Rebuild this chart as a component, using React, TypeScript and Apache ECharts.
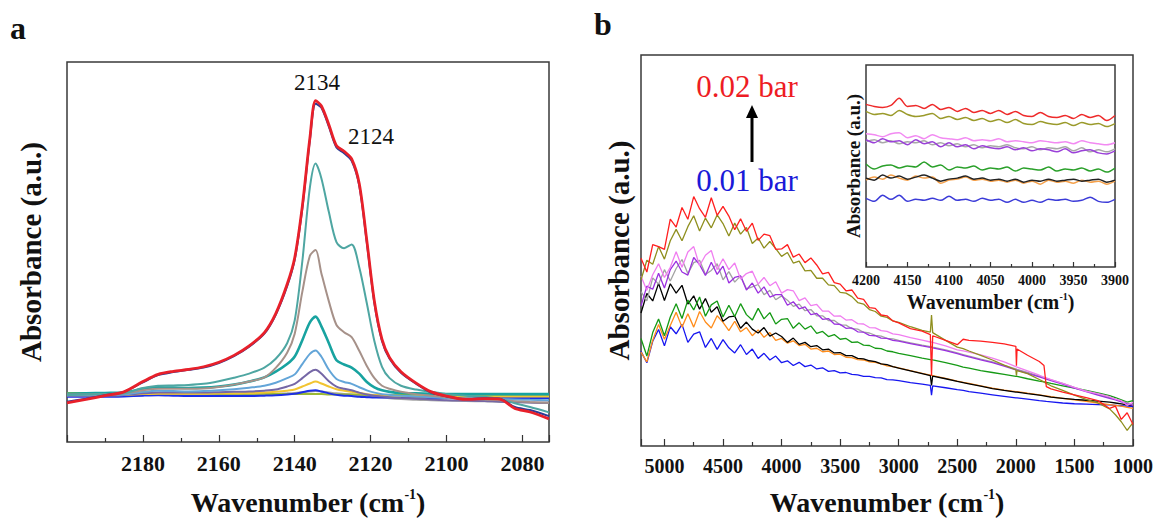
import React, { useEffect, useRef } from "react";
import * as echarts from "echarts";

const FONT = '"Liberation Serif", "Times New Roman", serif';

// ---------- Panel a (CO region) ----------
const xA = [2200, 2195, 2190, 2185, 2180, 2176, 2172, 2168, 2164, 2160, 2156, 2152, 2148, 2145, 2142, 2140, 2138, 2136, 2134.5, 2133, 2131, 2129, 2127, 2125, 2123, 2121, 2119, 2117, 2115, 2112, 2108, 2104, 2100, 2095, 2090, 2086, 2082, 2078, 2073];
const aRed = [10.3, 11.2, 12.2, 13.2, 15.9, 17.8, 18.6, 19.1, 19.8, 21.0, 22.8, 25.3, 28.8, 33.8, 41.5, 48.5, 62.0, 80.0, 89.8, 88.5, 83.5, 78.0, 76.5, 74.5, 68.0, 53.0, 37.0, 27.0, 22.2, 18.5, 15.5, 13.2, 12.1, 11.2, 11.4, 11.3, 8.8, 7.9, 6.1];
const aNavy = [10.6, 11.4, 12.3, 13.2, 15.7, 17.6, 18.4, 19.0, 19.6, 20.8, 22.6, 25.1, 28.5, 33.5, 41.0, 48.0, 61.5, 79.5, 89.0, 88.0, 83.0, 77.5, 76.0, 74.0, 67.5, 52.5, 36.5, 26.6, 21.9, 18.2, 15.3, 13.0, 12.0, 11.3, 11.5, 11.4, 9.2, 8.4, 6.8];
const aCadet = [12.4, 12.5, 12.6, 12.8, 14.2, 14.8, 14.9, 15.0, 15.3, 16.0, 16.9, 18.0, 19.6, 21.9, 26.0, 32.0, 47.5, 67.0, 73.3, 69.5, 60.5, 52.6, 51.0, 52.0, 46.0, 36.5, 26.5, 19.8, 16.8, 14.8, 13.8, 13.2, 12.6, 12.2, 11.9, 11.3, 10.2, 9.2, 7.8];
const aRosy = [12.5, 12.5, 12.6, 12.8, 13.6, 14.0, 14.0, 14.0, 14.1, 14.5, 15.1, 15.9, 17.0, 19.5, 23.5, 28.5, 39.5, 49.0, 50.5, 44.5, 37.0, 30.8, 28.9, 27.6, 24.0, 20.0, 16.8, 14.8, 14.0, 13.2, 12.6, 12.2, 11.8, 11.5, 11.2, 11.0, 10.7, 10.5, 10.3];
const aTeal = [12.7, 12.8, 12.9, 13.0, 14.0, 14.4, 14.3, 14.2, 14.3, 14.6, 15.1, 15.9, 17.0, 18.5, 20.5, 22.5, 26.8, 31.5, 33.0, 30.5, 26.0, 21.5, 20.4, 19.6, 18.0, 15.8, 14.4, 13.6, 13.2, 12.9, 12.8, 12.7, 12.6, 12.6, 12.6, 12.6, 12.6, 12.6, 12.6];
const aSteel = [12.3, 12.3, 12.4, 12.5, 13.2, 13.5, 13.4, 13.3, 13.4, 13.6, 13.9, 14.3, 14.8, 15.6, 16.8, 17.8, 20.5, 23.2, 24.1, 22.5, 19.0, 16.6, 15.8, 15.3, 14.4, 13.6, 13.0, 12.6, 12.4, 12.2, 12.0, 11.8, 11.6, 11.5, 11.4, 11.3, 11.2, 11.1, 11.0];
const aSlate = [12.2, 12.2, 12.3, 12.4, 12.8, 13.0, 13.0, 13.0, 13.0, 13.1, 13.2, 13.3, 13.5, 13.8, 14.6, 15.3, 16.8, 18.4, 19.0, 18.0, 16.0, 14.6, 14.0, 13.6, 13.0, 12.5, 12.2, 12.0, 11.8, 11.6, 11.4, 11.2, 11.0, 10.9, 10.8, 10.6, 10.5, 10.4, 10.3];
const aGold = [12.3, 12.3, 12.3, 12.4, 12.6, 12.7, 12.7, 12.7, 12.7, 12.8, 12.8, 12.9, 13.0, 13.2, 13.5, 13.8, 14.6, 15.4, 15.9, 15.4, 14.6, 13.9, 13.5, 13.2, 12.9, 12.6, 12.4, 12.3, 12.2, 12.1, 12.0, 12.0, 12.0, 12.0, 12.0, 12.0, 12.0, 12.0, 12.0];
const aBlue = [11.9, 11.9, 11.9, 12.0, 12.2, 12.3, 12.2, 12.1, 12.1, 12.1, 12.1, 12.1, 12.2, 12.3, 12.5, 12.7, 13.1, 13.5, 13.6, 13.3, 12.8, 12.4, 12.2, 12.1, 11.9, 11.8, 11.7, 11.7, 11.7, 11.7, 11.7, 11.6, 11.6, 11.6, 11.6, 11.6, 11.6, 11.6, 11.6];
const aOlive = [12.9, 12.9, 12.9, 12.9, 12.9, 12.8, 12.8, 12.8, 12.8, 12.7, 12.7, 12.7, 12.7, 12.6, 12.6, 12.6, 12.6, 12.6, 12.6, 12.6, 12.5, 12.5, 12.5, 12.5, 12.5, 12.4, 12.4, 12.4, 12.4, 12.4, 12.3, 12.3, 12.3, 12.3, 12.3, 12.2, 12.2, 12.2, 12.2];
const aGrey = [12.1, 12.1, 12.1, 12.2, 12.4, 12.5, 12.5, 12.5, 12.5, 12.5, 12.6, 12.6, 12.6, 12.7, 12.8, 12.9, 13.1, 13.3, 13.4, 13.3, 13.0, 12.8, 12.6, 12.5, 12.3, 12.1, 11.9, 11.7, 11.5, 11.3, 11.1, 11.0, 10.9, 10.8, 10.7, 10.6, 10.5, 10.4, 10.3];
const aTicks = ["2180", "2160", "2140", "2120", "2100", "2080"];

// ---------- Panel b (wide range) ----------
const xB = [5200, 5150, 5100, 5050, 5000, 4950, 4900, 4850, 4800, 4750, 4700, 4650, 4600, 4550, 4500, 4450, 4400, 4350, 4300, 4250, 4200, 4150, 4100, 4050, 4000, 3950, 3900, 3850, 3800, 3750, 3700, 3650, 3600, 3550, 3500, 3450, 3400, 3350, 3300, 3250, 3200, 3150, 3100, 3050, 3000,
  2900, 2800, 2730, 2720, 2710, 2600, 2500, 2450, 2400, 2300, 2200, 2100, 2000, 1995, 1990, 1900, 1800, 1760, 1740, 1700, 1600, 1500, 1400, 1300, 1200, 1150, 1100, 1050, 1000];
const bRed = [48.0, 44.5, 51.5, 51.0, 50.3, 58.0, 56.0, 61.0, 58.0, 63.8, 60.7, 58.5, 63.5, 59.0, 61.3, 58.8, 55.3, 58.1, 54.9, 57.0, 52.6, 54.2, 53.8, 50.3, 50.4, 51.5, 48.3, 49.1, 46.9, 48.1, 46.3, 44.0, 44.4, 41.8, 41.4, 39.7, 39.9, 37.8, 37.5, 35.4, 35.2, 33.5, 33.3, 32.0, 31.5,
  30.0, 29.4, 28.5, 18.0, 28.2, 27.0, 25.9, 27.3, 27.0, 26.8, 26.5, 26.1, 25.5, 20.5, 24.8, 23.2, 21.6, 20.6, 15.2, 14.6, 13.8, 13.1, 12.4, 11.6, 9.6, 10.2, 6.8, 8.5, 5.5];
const bOlive = [42.5, 47.5, 46.5, 51.0, 47.8, 52.5, 55.4, 52.5, 56.1, 58.9, 55.0, 58.3, 55.8, 59.1, 56.9, 53.7, 57.0, 54.2, 55.9, 51.8, 53.2, 50.6, 52.3, 50.5, 48.5, 49.5, 46.8, 47.3, 44.8, 44.9, 42.9, 42.9, 41.2, 41.0, 39.3, 39.1, 38.2, 36.7, 36.3, 34.9, 34.4, 33.2, 32.9, 32.0, 31.6,
  30.5, 29.6, 29.1, 33.5, 29.0, 27.0, 25.3, 24.9, 24.3, 23.2, 22.0, 20.7, 19.5, 18.0, 19.3, 18.5, 17.0, 16.4, 16.0, 15.4, 14.2, 13.0, 11.9, 11.0, 9.5, 8.0, 6.2, 4.0, 6.0];
const bPink = [43.5, 39.8, 43.8, 46.6, 43.1, 45.7, 49.7, 45.7, 49.6, 51.0, 46.1, 48.8, 50.0, 45.1, 47.9, 45.1, 46.8, 42.7, 44.1, 44.7, 41.4, 43.1, 41.0, 42.0, 39.1, 40.0, 39.7, 37.2, 37.9, 35.9, 36.2, 34.5, 34.5, 33.2, 33.3, 32.2, 32.3, 31.3, 31.2, 30.3, 30.2, 29.5, 29.3, 28.7, 28.5,
  27.7, 27.1, 26.6, 26.6, 26.5, 25.6, 24.6, 24.3, 24.0, 23.3, 22.5, 21.5, 20.3, 20.2, 20.2, 19.2, 18.1, 17.6, 17.4, 17.0, 16.0, 15.0, 14.0, 13.4, 12.6, 12.0, 11.6, 10.4, 11.2];
const bPurple = [35.8, 40.9, 40.1, 44.2, 40.4, 45.1, 47.3, 44.5, 43.7, 48.2, 46.4, 43.6, 47.0, 43.9, 46.0, 41.7, 43.1, 43.5, 39.9, 41.7, 39.1, 40.7, 38.1, 38.7, 38.7, 36.0, 36.9, 35.1, 35.6, 33.6, 33.9, 32.4, 32.6, 31.2, 31.1, 30.1, 30.2, 29.2, 29.1, 28.3, 28.2, 27.6, 27.5, 27.0, 26.8,
  26.2, 25.6, 25.2, 25.2, 25.1, 24.4, 23.6, 23.2, 22.8, 22.0, 21.3, 20.4, 19.5, 19.4, 19.4, 18.6, 17.7, 17.3, 17.1, 16.7, 15.8, 14.8, 13.9, 13.0, 12.2, 11.8, 11.3, 10.8, 10.4];
const bGrey = [39.5, 37.1, 43.0, 41.4, 45.1, 42.2, 45.4, 47.7, 44.1, 46.9, 47.5, 43.9, 44.9, 46.6, 42.5, 44.6, 41.9, 43.5, 40.2, 40.7, 41.3, 38.7, 39.8, 37.4, 38.4, 37.3, 35.7, 36.3, 34.6, 34.9, 33.3, 33.3, 32.1, 32.1, 31.0, 30.9, 30.0, 29.9, 29.1, 28.9, 28.3, 28.1, 27.5, 27.4, 27.0,
  26.4, 25.8, 25.4, 25.4, 25.3, 24.6, 23.8, 23.4, 23.0, 22.2, 21.5, 20.6, 19.7, 19.6, 19.6, 18.8, 17.9, 17.5, 17.3, 16.9, 16.0, 15.0, 14.1, 13.2, 12.4, 12.0, 11.5, 11.0, 10.6];
const bGreen = [27.5, 23.0, 29.0, 32.5, 28.2, 33.0, 36.4, 32.6, 37.3, 34.8, 38.1, 33.2, 36.1, 37.1, 33.0, 36.0, 33.1, 36.4, 33.6, 32.2, 35.2, 32.5, 34.1, 31.2, 32.4, 32.6, 30.1, 31.5, 29.9, 30.7, 28.8, 29.3, 28.0, 28.5, 27.3, 27.5, 26.5, 26.6, 25.8, 25.7, 25.0, 24.9, 24.3, 24.1, 23.7,
  23.1, 22.5, 22.1, 22.1, 22.0, 21.3, 20.6, 20.2, 19.9, 19.3, 18.8, 18.3, 17.8, 17.8, 17.8, 17.2, 16.6, 16.4, 16.3, 16.0, 15.4, 14.8, 14.2, 13.6, 12.9, 12.4, 11.8, 11.2, 11.6];
const bBlack = [34.0, 39.0, 37.1, 41.6, 37.2, 41.5, 39.1, 41.1, 36.3, 38.4, 35.0, 37.7, 34.2, 35.6, 31.9, 33.0, 33.2, 30.1, 31.7, 29.9, 28.9, 30.3, 28.1, 28.9, 28.0, 26.5, 27.6, 26.0, 26.5, 25.4, 25.7, 24.6, 24.8, 23.8, 23.9, 23.1, 23.1, 22.4, 22.3, 21.8, 21.6, 21.0, 20.8, 20.3, 19.9,
  19.2, 18.5, 18.0, 15.5, 17.9, 17.2, 16.5, 16.2, 15.9, 15.3, 14.7, 14.2, 13.8, 13.8, 13.8, 13.4, 13.0, 12.8, 12.7, 12.5, 12.2, 11.9, 11.7, 11.5, 11.2, 11.0, 10.8, 10.5, 10.3];
const bOrange = [24.0, 21.5, 27.0, 31.1, 27.3, 30.8, 34.2, 30.4, 33.8, 30.4, 34.4, 31.7, 30.2, 33.3, 31.6, 29.5, 31.9, 29.2, 30.3, 28.2, 29.7, 27.8, 29.0, 27.0, 27.5, 26.3, 26.9, 25.7, 26.0, 24.8, 25.0, 24.1, 24.3, 23.4, 23.5, 22.7, 22.6, 22.1, 22.0, 21.5, 21.4, 21.0, 20.5, 20.3, 20.0,
  19.3, 18.6, 18.1, 18.1, 18.0, 17.3, 16.6, 16.3, 16.0, 15.4, 14.8, 14.3, 13.9, 13.9, 13.9, 13.5, 13.1, 12.9, 12.8, 12.6, 12.2, 11.8, 11.4, 11.0, 10.6, 10.4, 10.2, 9.9, 9.6];
const bBlue = [24.2, 21.3, 26.8, 29.8, 25.6, 30.5, 28.7, 31.1, 26.5, 28.6, 29.2, 25.2, 27.5, 24.7, 27.2, 25.1, 23.8, 25.9, 23.4, 24.8, 22.4, 23.7, 22.0, 23.0, 21.3, 21.8, 20.6, 21.4, 20.3, 20.7, 19.7, 20.0, 19.1, 19.3, 18.7, 18.8, 18.3, 18.2, 17.8, 17.8, 17.5, 17.4, 17.0, 16.9, 16.7,
  16.2, 15.8, 15.5, 13.0, 15.4, 14.9, 14.4, 14.2, 13.9, 13.5, 13.1, 12.7, 12.3, 12.3, 12.3, 12.0, 11.6, 11.5, 11.4, 11.3, 11.0, 10.8, 10.7, 10.6, 10.5, 10.4, 10.3, 10.2, 10.1];
const bTicks = ["5000", "4500", "4000", "3500", "3000", "2500", "2000", "1500", "1000"];

// ---------- Inset (4200-3900) ----------
const xI = [4200, 4190, 4180, 4170, 4160, 4150, 4140, 4130, 4120, 4110, 4100, 4090, 4080, 4070, 4060, 4050, 4040, 4030, 4020, 4010, 4000, 3990, 3980, 3970, 3960, 3950, 3940, 3930, 3920, 3910, 3900];
const iRed = [8.05, 7.95, 7.90, 8.00, 8.35, 7.95, 8.00, 7.85, 8.05, 7.80, 7.90, 7.70, 7.85, 7.65, 7.75, 7.60, 7.75, 7.55, 7.70, 7.50, 7.45, 7.65, 7.45, 7.40, 7.50, 7.35, 7.55, 7.40, 7.50, 7.25, 7.50];
const iOlive = [7.70, 7.55, 7.60, 7.50, 7.75, 7.55, 7.45, 7.50, 7.60, 7.35, 7.45, 7.30, 7.40, 7.25, 7.35, 7.20, 7.30, 7.15, 7.30, 7.10, 7.05, 7.20, 7.10, 7.05, 7.15, 7.00, 7.15, 7.05, 7.10, 6.95, 7.10];
const iPink = [6.60, 6.55, 6.45, 6.60, 6.65, 6.40, 6.50, 6.35, 6.55, 6.40, 6.35, 6.30, 6.40, 6.25, 6.30, 6.25, 6.35, 6.20, 6.25, 6.20, 6.15, 6.25, 6.20, 6.15, 6.20, 6.10, 6.25, 6.15, 6.10, 6.05, 6.15];
const iPurple = [6.30, 6.15, 6.35, 6.20, 6.25, 6.05, 6.30, 6.10, 6.20, 5.95, 6.15, 5.95, 6.05, 5.85, 6.00, 5.90, 5.85, 5.95, 5.80, 5.90, 5.75, 5.85, 5.80, 5.70, 5.85, 5.65, 5.75, 5.80, 5.65, 5.60, 5.75];
const iGrey = [6.20, 6.30, 6.15, 6.25, 6.10, 6.20, 6.15, 6.25, 6.05, 6.15, 6.00, 6.10, 5.95, 6.05, 5.90, 6.00, 5.95, 6.05, 5.90, 5.85, 5.95, 5.80, 5.90, 5.85, 5.95, 5.75, 5.90, 5.70, 5.80, 5.70, 5.85];
const iGreen = [5.10, 4.85, 5.00, 5.05, 4.90, 5.00, 4.95, 5.20, 4.95, 5.05, 4.80, 4.95, 4.90, 5.00, 4.80, 4.90, 4.85, 4.95, 4.75, 4.90, 4.85, 4.80, 4.95, 4.75, 4.85, 4.80, 4.90, 4.75, 4.85, 4.70, 4.90];
const iBlack = [4.40, 4.30, 4.55, 4.40, 4.50, 4.35, 4.45, 4.55, 4.40, 4.25, 4.35, 4.40, 4.50, 4.35, 4.40, 4.30, 4.35, 4.25, 4.35, 4.20, 4.30, 4.25, 4.35, 4.25, 4.30, 4.35, 4.25, 4.30, 4.35, 4.20, 4.30];
const iOrange = [4.30, 4.45, 4.35, 4.55, 4.40, 4.30, 4.50, 4.40, 4.45, 4.15, 4.30, 4.35, 4.45, 4.30, 4.35, 4.25, 4.30, 4.20, 4.30, 4.15, 4.25, 4.10, 4.30, 4.20, 4.25, 4.15, 4.30, 4.20, 4.25, 4.10, 4.25];
const iBlue = [3.40, 3.25, 3.55, 3.35, 3.55, 3.25, 3.35, 3.30, 3.40, 3.30, 3.50, 3.30, 3.35, 3.25, 3.40, 3.30, 3.35, 3.20, 3.35, 3.20, 3.30, 3.20, 3.35, 3.30, 3.35, 3.25, 3.30, 3.45, 3.25, 3.20, 3.35];

const C = {
  red: "#e8202a", navy: "#2b3c96", cadet: "#4ea6a2", rosy: "#a69189", teal: "#18a3a0",
  steel: "#63a5d8", slate: "#7567a6", gold: "#f2c431", blue: "#1c2ee6", olive: "#9ab834", grey: "#a5a5a5",
};
const B = {
  red: "#ff1f1f", olive: "#8f8f1e", pink: "#f07ef0", purple: "#9b30e0", grey: "#a3a3a3",
  green: "#159a15", black: "#000000", orange: "#ff8c1a", blue: "#1616f0",
};

function line(xs: number[], ys: number[], color: string, width: number, gi: number, smooth: number | boolean) {
  return {
    type: "line",
    xAxisIndex: gi,
    yAxisIndex: gi,
    data: xs.map((x, i) => [x, ys[i]]),
    showSymbol: false,
    symbol: "none",
    smooth,
    silent: true,
    lineStyle: { color, width },
  };
}

function xName(size: number, sup: number) {
  return {
    name: "{t|Wavenumber (cm}{s|-1}{t|)}",
    nameLocation: "middle",
    nameTextStyle: {
      rich: {
        t: { fontFamily: FONT, fontWeight: "bold", fontSize: size, color: "#111", lineHeight: size + 2 },
        s: { fontFamily: FONT, fontWeight: "bold", fontSize: sup, color: "#111", verticalAlign: "top", lineHeight: size + 2 },
      },
    },
  };
}

function yAxis(gi: number, max: number, gap: number, size: number) {
  return {
    gridIndex: gi,
    type: "value",
    min: 0,
    max,
    name: "Absorbance (a.u.)",
    nameLocation: "middle",
    nameRotate: 90,
    nameGap: gap,
    nameTextStyle: { fontFamily: FONT, fontWeight: "bold", fontSize: size, color: "#111" },
    axisLine: { show: false },
    axisTick: { show: false },
    axisLabel: { show: false },
    splitLine: { show: false },
  };
}

const tickStyle = { lineStyle: { color: "#333", width: 1.2 } };

export default function App() {
  const ref = useRef<HTMLDivElement>(null);
  useEffect(() => {
    if (!ref.current) return;
    const chart = echarts.init(ref.current, null, { renderer: "svg" });
    const frame = { show: true, borderColor: "#3a3a3a", borderWidth: 1.5, backgroundColor: "#fff" };
    const option: any = {
      animation: false,
      backgroundColor: "#fff",
      grid: [
        { left: 67, top: 62, width: 482, height: 390, ...frame },
        { left: 641, top: 55, width: 494, height: 402, ...frame },
        { left: 866, top: 65, width: 249, height: 202, ...frame },
      ],
      xAxis: [
        {
          gridIndex: 0, type: "value", inverse: true, min: 2073, max: 2200, splitNumber: 6,
          ...xName(28, 14), nameGap: 45,
          axisLine: { show: false },
          axisTick: { show: true, inside: true, length: 7, ...tickStyle },
          minorTick: { show: true, splitNumber: 2, length: 4, ...tickStyle },
          splitLine: { show: false },
          axisLabel: {
            margin: 10, fontFamily: FONT, fontWeight: "bold", fontSize: 22, color: "#111",
            showMinLabel: false, showMaxLabel: false,
            formatter: (v: number) => (aTicks.includes(String(v)) ? String(v) : ""),
          },
        },
        {
          gridIndex: 1, type: "value", inverse: true, min: 1000, max: 5200, interval: 500,
          ...xName(28, 14), nameGap: 41,
          axisLine: { show: false },
          axisTick: { show: true, inside: true, length: 7, ...tickStyle },
          minorTick: { show: true, splitNumber: 2, length: 4, ...tickStyle },
          splitLine: { show: false },
          axisLabel: {
            margin: 10, fontFamily: FONT, fontWeight: "bold", fontSize: 20, color: "#111",
            showMaxLabel: false,
            formatter: (v: number) => (bTicks.includes(String(v)) ? String(v) : ""),
          },
        },
        {
          gridIndex: 2, type: "value", inverse: true, min: 3900, max: 4200, interval: 50,
          ...xName(20, 10), nameGap: 24,
          axisLine: { show: false },
          axisTick: { show: true, inside: true, length: 5, ...tickStyle },
          minorTick: { show: true, splitNumber: 2, length: 3, ...tickStyle },
          splitLine: { show: false },
          axisLabel: {
            margin: 6, fontFamily: FONT, fontWeight: "bold", fontSize: 14, color: "#111",
            formatter: (v: number) => String(v),
          },
        },
      ],
      yAxis: [yAxis(0, 100, 22, 29), yAxis(1, 100, 8, 29), yAxis(2, 10, 3, 19)],
      series: [
        line(xA, aGrey, C.grey, 2, 0, 0.3),
        line(xA, aOlive, C.olive, 2, 0, 0.3),
        line(xA, aBlue, C.blue, 2, 0, 0.3),
        line(xA, aGold, C.gold, 2, 0, 0.3),
        line(xA, aSlate, C.slate, 2, 0, 0.3),
        line(xA, aSteel, C.steel, 2, 0, 0.3),
        line(xA, aTeal, C.teal, 2.6, 0, 0.3),
        line(xA, aRosy, C.rosy, 2, 0, 0.3),
        line(xA, aCadet, C.cadet, 2, 0, 0.3),
        line(xA, aNavy, C.navy, 2, 0, 0.3),
        line(xA, aRed, C.red, 2.8, 0, 0.3),

        line(xB, bBlue, B.blue, 1.3, 1, false),
        line(xB, bOrange, B.orange, 1.3, 1, false),
        line(xB, bBlack, B.black, 1.3, 1, false),
        line(xB, bGreen, B.green, 1.3, 1, false),
        line(xB, bGrey, B.grey, 1.3, 1, false),
        line(xB, bPurple, B.purple, 1.3, 1, false),
        line(xB, bPink, B.pink, 1.3, 1, false),
        line(xB, bOlive, B.olive, 1.3, 1, false),
        line(xB, bRed, B.red, 1.3, 1, false),

        line(xI, iBlue, "#3b3bd8", 1.5, 2, 0.3),
        line(xI, iOrange, "#f5a04a", 1.5, 2, 0.3),
        line(xI, iBlack, "#222222", 1.5, 2, 0.3),
        line(xI, iGreen, "#2aa02a", 1.5, 2, 0.3),
        line(xI, iGrey, "#a8a8a8", 1.5, 2, 0.3),
        line(xI, iPurple, "#9a40d8", 1.5, 2, 0.3),
        line(xI, iPink, "#f28af2", 1.5, 2, 0.3),
        line(xI, iOlive, "#9a9a2a", 1.5, 2, 0.3),
        line(xI, iRed, "#ee2a2a", 1.5, 2, 0.3),
      ],
      graphic: [
        { type: "text", left: 10, top: 12, style: { text: "a", fontFamily: FONT, fontWeight: "bold", fontSize: 32, fill: "#111" } },
        { type: "text", left: 594, top: 8, style: { text: "b", fontFamily: FONT, fontWeight: "bold", fontSize: 32, fill: "#111" } },
        { type: "text", x: 317, y: 82, style: { text: "2134", fontFamily: FONT, fontSize: 23, fill: "#111", align: "center", verticalAlign: "middle" } },
        { type: "text", x: 371, y: 136, style: { text: "2124", fontFamily: FONT, fontSize: 23, fill: "#111", align: "center", verticalAlign: "middle" } },
        { type: "text", x: 747, y: 86, style: { text: "0.02 bar", fontFamily: FONT, fontSize: 31, fill: "#ee1c24", align: "center", verticalAlign: "middle" } },
        { type: "text", x: 747, y: 180, style: { text: "0.01 bar", fontFamily: FONT, fontSize: 31, fill: "#1a1ad8", align: "center", verticalAlign: "middle" } },
        { type: "line", shape: { x1: 752, y1: 162, x2: 752, y2: 114 }, style: { stroke: "#000", lineWidth: 3 } },
        { type: "polygon", shape: { points: [[746, 118], [758, 118], [752, 105]] }, style: { fill: "#000" } },
      ],
    };
    chart.setOption(option);
    return () => chart.dispose();
  }, []);
  return <div ref={ref} style={{ position: "absolute", left: 0, top: 0, width: 1156, height: 521 }} />;
}
